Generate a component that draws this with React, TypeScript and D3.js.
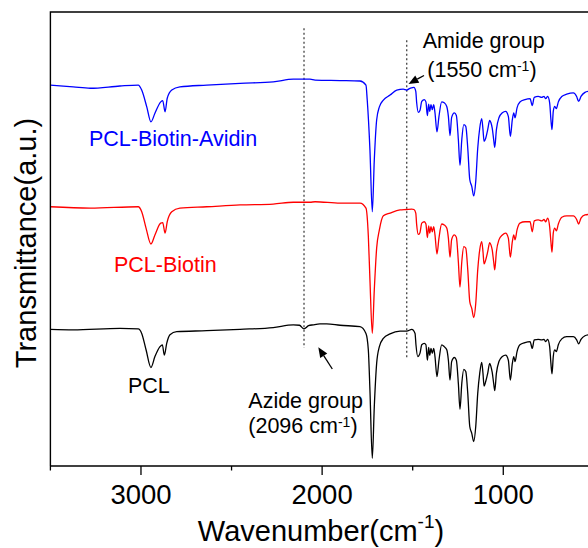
import React from 'react';
import * as d3 from 'd3';

// Wavenumber (cm-1) / transmittance (a.u., offset traces)
const pclSpectrum: [number, number][] = [
  [3500,30.1],[3374,30.0],[3116,30.3],[3015,30.2],[2996,29.2],[2972,25.6],[2945,21.7],[2923,24.1],[2895,26.3],[2882,26.7],[2871,24.4],[2858,27.0],[2840,28.9],[2803,29.6],[2637,29.8],[2453,30.1],[2270,30.5],[2159,31.1],[2125,31.0],[2100,30.2],[2075,30.9],[2049,31.1],[2012,31.3],[1975,31.3],[1901,31.0],[1791,30.7],[1758,29.2],[1745,25.6],[1736,16.7],[1723,1.7],[1712,13.1],[1699,22.6],[1684,26.3],[1662,28.1],[1625,29.1],[1570,29.7],[1533,29.7],[1505,30.1],[1487,29.2],[1482,26.7],[1472,24.1],[1460,24.8],[1450,26.7],[1436,27.0],[1427,26.7],[1419,23.3],[1412,26.1],[1406,24.4],[1399,25.9],[1392,24.8],[1384,25.9],[1377,24.1],[1366,19.7],[1355,23.3],[1340,26.7],[1326,26.3],[1312,25.6],[1303,23.3],[1294,18.9],[1285,23.0],[1270,23.9],[1259,23.3],[1248,18.2],[1239,12.5],[1229,18.2],[1218,21.3],[1207,20.8],[1196,16.0],[1185,8.7],[1174,7.2],[1163,5.4],[1152,8.7],[1141,16.0],[1130,20.4],[1119,22.8],[1112,20.4],[1106,17.6],[1097,18.6],[1086,20.4],[1075,22.6],[1068,21.9],[1061,20.6],[1053,18.2],[1047,16.6],[1038,20.4],[1024,23.0],[1005,24.1],[987,24.4],[972,23.3],[961,18.9],[950,22.6],[942,24.1],[935,23.0],[924,25.2],[908,26.7],[880,27.2],[852,27.4],[840,25.9],[829,27.8],[807,27.9],[788,27.8],[775,27.9],[766,27.4],[755,27.9],[744,26.3],[737,22.6],[731,20.3],[724,24.1],[716,25.6],[707,25.2],[696,26.7],[677,28.0],[650,28.5],[613,28.5],[595,27.8],[584,26.9],[571,27.9],[549,28.7],[532,28.9]
];

const biotinSpectrum: [number, number][] = [
  [3500,57.1],[3280,56.8],[3015,57.1],[2996,56.0],[2972,52.4],[2945,48.9],[2923,50.9],[2891,53.5],[2880,53.6],[2867,51.3],[2855,53.8],[2830,56.0],[2785,56.8],[2637,57.1],[2453,57.5],[2270,57.7],[2159,58.1],[2067,58.1],[2039,58.2],[1901,57.9],[1791,57.9],[1758,56.8],[1745,50.7],[1736,41.0],[1723,29.2],[1712,38.8],[1699,48.0],[1684,52.0],[1662,55.1],[1625,55.7],[1570,56.4],[1533,56.5],[1505,56.6],[1493,56.5],[1483,55.7],[1478,53.1],[1469,51.0],[1460,51.4],[1450,53.5],[1436,53.8],[1427,53.3],[1419,50.3],[1412,52.9],[1406,51.3],[1399,52.7],[1392,51.6],[1384,52.7],[1377,50.9],[1366,46.7],[1355,50.2],[1340,53.3],[1326,53.1],[1312,52.4],[1303,50.2],[1294,46.0],[1285,49.9],[1270,50.9],[1259,50.4],[1248,45.0],[1239,39.4],[1229,45.0],[1218,48.3],[1207,48.0],[1196,43.2],[1185,36.2],[1174,34.7],[1163,32.7],[1152,35.8],[1141,43.2],[1130,47.6],[1119,49.4],[1112,47.2],[1106,44.5],[1097,45.4],[1086,47.2],[1075,49.2],[1068,48.7],[1061,47.6],[1053,45.0],[1047,43.2],[1038,47.2],[1024,49.8],[1005,50.9],[987,51.3],[972,50.2],[961,46.0],[950,49.4],[942,50.9],[935,49.8],[924,52.0],[908,53.5],[880,53.8],[852,53.8],[840,51.6],[829,54.0],[807,54.2],[788,54.0],[775,54.3],[766,53.8],[755,54.6],[744,52.7],[737,49.4],[731,47.1],[724,51.3],[716,52.4],[707,51.8],[696,53.3],[677,54.8],[650,55.1],[613,55.1],[595,54.3],[584,53.3],[571,54.6],[549,55.3],[532,55.4]
];

const avidinSpectrum: [number, number][] = [
  [3500,83.9],[3374,83.5],[3280,83.2],[3116,83.7],[3015,83.9],[2996,82.8],[2968,79.1],[2945,75.8],[2923,77.7],[2891,80.2],[2880,80.5],[2867,78.0],[2855,81.0],[2830,82.8],[2785,83.5],[2637,83.9],[2453,84.3],[2270,84.6],[2159,85.2],[2067,85.2],[2039,85.0],[1901,84.9],[1791,84.8],[1758,83.9],[1751,80.6],[1736,69.6],[1723,56.0],[1712,67.4],[1699,76.2],[1684,79.1],[1662,80.6],[1625,81.7],[1588,82.8],[1552,83.0],[1533,82.8],[1515,83.2],[1505,83.3],[1493,83.4],[1483,82.5],[1478,80.0],[1469,77.9],[1460,78.3],[1450,80.3],[1436,80.7],[1427,80.2],[1419,77.2],[1412,79.7],[1406,78.1],[1399,79.6],[1392,78.5],[1384,79.6],[1377,77.8],[1366,73.6],[1355,77.0],[1340,80.2],[1326,80.0],[1312,79.2],[1303,77.0],[1294,72.8],[1285,76.8],[1270,77.8],[1259,77.2],[1248,71.9],[1239,66.2],[1229,71.9],[1218,75.2],[1207,74.8],[1196,70.0],[1185,63.1],[1174,61.6],[1163,59.5],[1152,62.7],[1141,70.0],[1130,74.4],[1119,76.5],[1112,74.1],[1106,71.5],[1097,72.2],[1086,74.1],[1075,76.1],[1068,75.6],[1061,74.4],[1053,71.9],[1047,70.2],[1038,74.1],[1024,76.7],[1005,77.8],[987,78.1],[972,77.0],[961,72.6],[950,76.3],[942,77.8],[935,76.7],[924,78.9],[908,80.2],[880,80.7],[852,80.9],[840,79.4],[829,81.2],[807,81.4],[788,81.2],[775,81.4],[766,80.9],[755,81.4],[744,80.0],[737,76.3],[731,74.1],[724,78.1],[716,79.2],[707,78.7],[696,80.2],[677,81.4],[650,81.9],[613,82.2],[595,81.4],[584,80.3],[571,81.4],[549,82.3],[532,82.5]
];

const majorTicks = [3000, 2000, 1000];
const minorTicks = [3500, 2500, 1500, 500];
const markerLines = [2100, 1533]; // azide, amide guide lines (cm-1)

const FONT = "'Liberation Sans', Arial, Helvetica, sans-serif";

const W = 588;
const H = 548;
const left = 50.4;
const top = 12;
const bottom = 466;

export default function App() {
  const x = d3.scaleLinear().domain([3500, 400]).range([left, left + 3100 * 0.18115]);
  const y = d3.scaleLinear().domain([0, 100]).range([bottom, top]);
  const line = d3
    .line<[number, number]>()
    .x((d) => x(d[0]))
    .y((d) => y(d[1]))
    .curve(d3.curveMonotoneX);

  const series = [
    { data: pclSpectrum, color: '#000000' },
    { data: biotinSpectrum, color: '#FF0000' },
    { data: avidinSpectrum, color: '#0000FF' },
  ];

  const arrow = (x1: number, y1: number, x2: number, y2: number, key: string) => {
    // from tail (x1,y1) to tip (x2,y2)
    const ang = Math.atan2(y2 - y1, x2 - x1);
    const hl = 10;
    const hw = 4.2;
    const bx = x2 - hl * Math.cos(ang);
    const by = y2 - hl * Math.sin(ang);
    const px = -Math.sin(ang) * hw;
    const py = Math.cos(ang) * hw;
    return (
      <g key={key}>
        <line x1={x1} y1={y1} x2={bx} y2={by} stroke="#000" strokeWidth={1.3} />
        <polygon points={`${x2},${y2} ${bx + px},${by + py} ${bx - px},${by - py}`} fill="#000" />
      </g>
    );
  };

  const xEnd = x(400);

  return (
    <svg
      width={W}
      height={H}
      style={{ position: 'absolute', left: 0, top: 0, background: '#fff' }}
      fontFamily={FONT}
    >
      <rect x={0} y={0} width={W} height={H} fill="#fff" />
      {/* guide lines */}
      <line x1={x(markerLines[0])} x2={x(markerLines[0])} y1={y(96.4)} y2={y(26.0)} stroke="#444" strokeWidth={1.3} strokeDasharray="2,2.5" />
      <line x1={x(markerLines[1])} x2={x(markerLines[1])} y1={y(93.8)} y2={y(23.7)} stroke="#444" strokeWidth={1.3} strokeDasharray="2,2.5" />

      {/* spectra */}
      {series.map((s, i) => (
        <path key={i} d={line(s.data) || ''} fill="none" stroke={s.color} strokeWidth={1.3} strokeLinejoin="round" />
      ))}

      {/* frame */}
      <path d={`M${left},${bottom} V${top} H${xEnd}`} fill="none" stroke="#000" strokeWidth={1.4} />
      <line x1={left} x2={xEnd} y1={bottom} y2={bottom} stroke="#000" strokeWidth={1.4} />

      {/* ticks */}
      {majorTicks.map((t) => (
        <g key={'M' + t}>
          <line x1={x(t)} x2={x(t)} y1={bottom} y2={bottom + 9} stroke="#000" strokeWidth={1.3} />
          <text x={x(t)} y={504.3} textAnchor="middle" fontSize={27.5} fill="#000">
            {t}
          </text>
        </g>
      ))}
      {minorTicks.map((t) => (
        <line key={'m' + t} x1={x(t)} x2={x(t)} y1={bottom} y2={bottom + 4.5} stroke="#000" strokeWidth={1.3} />
      ))}

      {/* axis titles */}
      <text x={321} y={541} textAnchor="middle" fontSize={29} fill="#000">
        Wavenumber(cm
        <tspan fontSize={19} dy={-13}>-1</tspan>
        <tspan dy={13}>)</tspan>
      </text>
      <text transform="translate(36,243) rotate(-90)" textAnchor="middle" fontSize={29} fill="#000">
        Transmittance(a.u.)
      </text>

      {/* series labels */}
      <text x={89} y={146} fontSize={21.5} fill="#0000FF">PCL-Biotin-Avidin</text>
      <text x={114} y={271.7} fontSize={21.5} fill="#FF0000">PCL-Biotin</text>
      <text x={128} y={392.5} fontSize={21.5} fill="#000">PCL</text>

      {/* annotations */}
      <text x={248.3} y={408.3} fontSize={21.5} fill="#000">Azide group</text>
      <text x={248.3} y={433.3} fontSize={21.5} fill="#000">
        (2096 cm
        <tspan fontSize={14} dy={-6}>-1</tspan>
        <tspan dy={6}>)</tspan>
      </text>
      <text x={422.7} y={48.3} fontSize={21.5} fill="#000">Amide group</text>
      <text x={427.3} y={77.3} fontSize={21.5} fill="#000">
        (1550 cm
        <tspan fontSize={14} dy={-6}>-1</tspan>
        <tspan dy={6}>)</tspan>
      </text>
      {arrow(424, 75.5, 408.5, 84, 'amide')}
      {arrow(332.3, 369, 318.3, 347.3, 'azide')}
    </svg>
  );
}
